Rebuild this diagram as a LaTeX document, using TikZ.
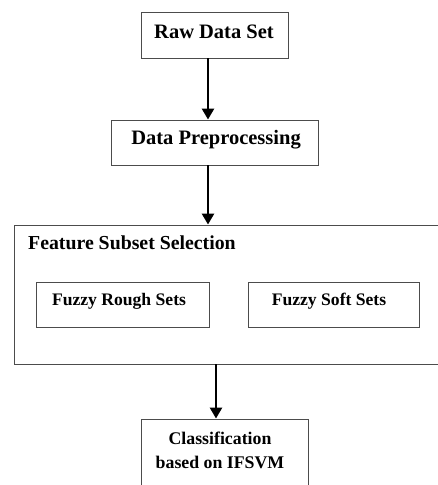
\documentclass[tikz,border=0pt]{standalone}
\usepackage{fontspec}
\setmainfont{Liberation Serif}
\usetikzlibrary{arrows.meta}

\begin{document}
\begin{tikzpicture}[x=1pt, y=-1pt,
    stage/.style={draw=black!70, line width=0.9pt, inner sep=0pt},
    subbox/.style={stage, minimum height=45pt},
    flow/.style={line width=2.6pt, -{Triangle[width=12pt,length=11pt]}}]
    \useasboundingbox (0,0) rectangle (438,485);
    \node [stage, minimum width=147pt, minimum height=46pt] (raw) at (214.5,35) {};
    \node at (214,32) [font=\bfseries\fontsize{20.5}{24}\selectfont] (rawtxt) {Raw Data Set};
    \node [stage, minimum width=207pt, minimum height=45pt] (prep) at (214.5,142.5) {};
    \node at (216,140) [font=\bfseries\fontsize{20.5}{24}\selectfont] (preptxt) {Data Preprocessing};
    \node [stage, minimum width=430pt, minimum height=139pt] (fss) at (229,294.5) {};
    \node [anchor=west, font=\bfseries\fontsize{19.8}{23}\selectfont, inner sep=0pt] (fsstxt) at (28,243) {Feature Subset Selection};
    \node [subbox, minimum width=173pt] (rough) at (122.5,304.5) {};
    \node at (119,301) [font=\bfseries\fontsize{17.6}{21}\selectfont] (roughtxt) {Fuzzy Rough Sets};
    \node [subbox, minimum width=171pt] (soft) at (333.5,304.5) {};
    \node at (329,301) [font=\bfseries\fontsize{17.6}{21}\selectfont] (softtxt) {Fuzzy Soft Sets};
    \node [stage, minimum width=167pt, minimum height=90pt] (clf) at (224.5,464) {};
    \node at (220,450) [align=center, font=\bfseries\fontsize{17.8}{24}\selectfont] (clftxt) {Classification\\based on IFSVM};
    \draw [flow] ([xshift=-6.5pt]raw.south) -- ([xshift=-6.5pt]prep.north);
    \draw [flow] ([xshift=-6.5pt]prep.south) -- ([xshift=-21pt]fss.north);
    \draw [flow] ([xshift=-13pt]fss.south) -- ([xshift=-8.5pt]clf.north);
\end{tikzpicture}
\end{document}
